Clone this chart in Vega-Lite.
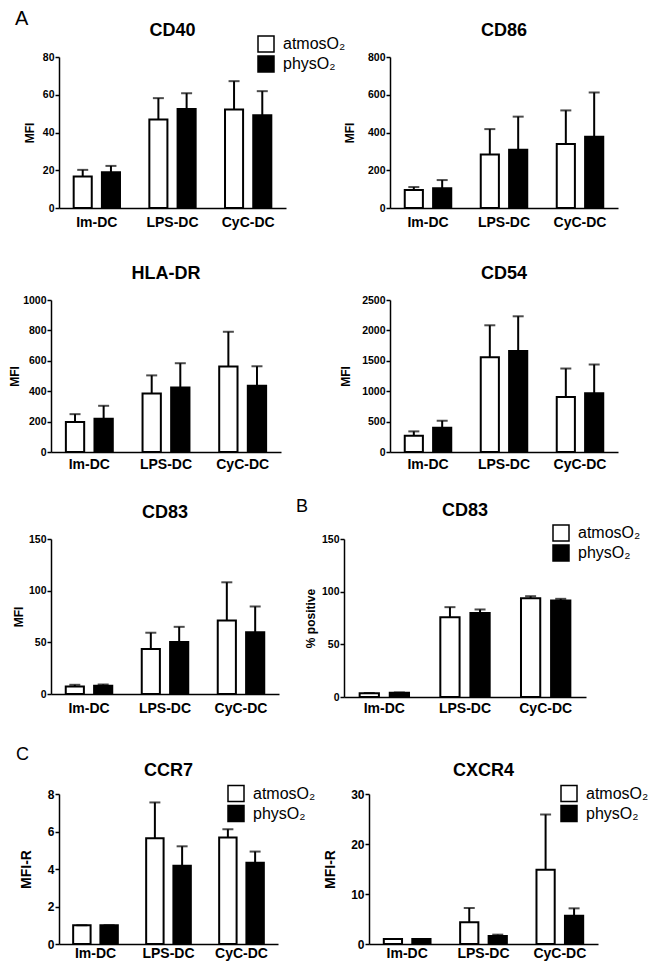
{
  "$schema": "https://vega.github.io/schema/vega-lite/v6.json",
  "background": "white",
  "padding": {"left": 8, "top": 9, "right": 5, "bottom": 5},
  "datasets": {
    "cd40": [
      {"group": "Im-DC", "cond": "atmosO₂", "mean": 16.7, "upper": 20.2},
      {"group": "Im-DC", "cond": "physO₂", "mean": 19.0, "upper": 22.3},
      {"group": "LPS-DC", "cond": "atmosO₂", "mean": 46.9, "upper": 58.2},
      {"group": "LPS-DC", "cond": "physO₂", "mean": 52.4, "upper": 60.8},
      {"group": "CyC-DC", "cond": "atmosO₂", "mean": 52.2, "upper": 67.2},
      {"group": "CyC-DC", "cond": "physO₂", "mean": 49.1, "upper": 61.9}
    ],
    "cd86": [
      {"group": "Im-DC", "cond": "atmosO₂", "mean": 95, "upper": 111},
      {"group": "Im-DC", "cond": "physO₂", "mean": 104, "upper": 148},
      {"group": "LPS-DC", "cond": "atmosO₂", "mean": 283, "upper": 418},
      {"group": "LPS-DC", "cond": "physO₂", "mean": 308, "upper": 484},
      {"group": "CyC-DC", "cond": "atmosO₂", "mean": 339, "upper": 517},
      {"group": "CyC-DC", "cond": "physO₂", "mean": 378, "upper": 612}
    ],
    "hladr": [
      {"group": "Im-DC", "cond": "atmosO₂", "mean": 198, "upper": 249},
      {"group": "Im-DC", "cond": "physO₂", "mean": 218, "upper": 304},
      {"group": "LPS-DC", "cond": "atmosO₂", "mean": 385, "upper": 504},
      {"group": "LPS-DC", "cond": "physO₂", "mean": 425, "upper": 584},
      {"group": "CyC-DC", "cond": "atmosO₂", "mean": 562, "upper": 791},
      {"group": "CyC-DC", "cond": "physO₂", "mean": 436, "upper": 564}
    ],
    "cd54": [
      {"group": "Im-DC", "cond": "atmosO₂", "mean": 268, "upper": 339},
      {"group": "Im-DC", "cond": "physO₂", "mean": 399, "upper": 514},
      {"group": "LPS-DC", "cond": "atmosO₂", "mean": 1559, "upper": 2084},
      {"group": "LPS-DC", "cond": "physO₂", "mean": 1663, "upper": 2232},
      {"group": "CyC-DC", "cond": "atmosO₂", "mean": 903, "upper": 1373},
      {"group": "CyC-DC", "cond": "physO₂", "mean": 968, "upper": 1439}
    ],
    "cd83mfi": [
      {"group": "Im-DC", "cond": "atmosO₂", "mean": 7.3, "upper": 8.9},
      {"group": "Im-DC", "cond": "physO₂", "mean": 7.9, "upper": 9.2},
      {"group": "LPS-DC", "cond": "atmosO₂", "mean": 43.5, "upper": 59.3},
      {"group": "LPS-DC", "cond": "physO₂", "mean": 50.4, "upper": 65.0},
      {"group": "CyC-DC", "cond": "atmosO₂", "mean": 71.2, "upper": 108.1},
      {"group": "CyC-DC", "cond": "physO₂", "mean": 59.7, "upper": 84.7}
    ],
    "cd83pct": [
      {"group": "Im-DC", "cond": "atmosO₂", "mean": 3.5, "upper": 3.8},
      {"group": "Im-DC", "cond": "physO₂", "mean": 4.1, "upper": 4.3},
      {"group": "LPS-DC", "cond": "atmosO₂", "mean": 75.6, "upper": 85.3},
      {"group": "LPS-DC", "cond": "physO₂", "mean": 79.7, "upper": 83.1},
      {"group": "CyC-DC", "cond": "atmosO₂", "mean": 93.8, "upper": 95.7},
      {"group": "CyC-DC", "cond": "physO₂", "mean": 91.6, "upper": 93.2}
    ],
    "ccr7": [
      {"group": "Im-DC", "cond": "atmosO₂", "mean": 1.0, "upper": 1.0},
      {"group": "Im-DC", "cond": "physO₂", "mean": 1.0, "upper": 1.0},
      {"group": "LPS-DC", "cond": "atmosO₂", "mean": 5.64, "upper": 7.55},
      {"group": "LPS-DC", "cond": "physO₂", "mean": 4.18, "upper": 5.21},
      {"group": "CyC-DC", "cond": "atmosO₂", "mean": 5.68, "upper": 6.12},
      {"group": "CyC-DC", "cond": "physO₂", "mean": 4.34, "upper": 4.93}
    ],
    "cxcr4": [
      {"group": "Im-DC", "cond": "atmosO₂", "mean": 1.0, "upper": 1.0},
      {"group": "Im-DC", "cond": "physO₂", "mean": 1.0, "upper": 1.0},
      {"group": "LPS-DC", "cond": "atmosO₂", "mean": 4.33, "upper": 7.2},
      {"group": "LPS-DC", "cond": "physO₂", "mean": 1.6, "upper": 1.87},
      {"group": "CyC-DC", "cond": "atmosO₂", "mean": 14.87, "upper": 25.9},
      {"group": "CyC-DC", "cond": "physO₂", "mean": 5.67, "upper": 7.13}
    ]
  },
  "columns": 1,
  "align": "each",
  "spacing": 0,
  "resolve": {"scale": {"fill": "independent", "x": "independent", "y": "independent", "xOffset": "independent"}, "legend": {"fill": "independent"}},
  "concat": [
    {
      "title": {"text": "A", "anchor": "start", "frame": "group", "fontSize": 20, "fontWeight": "normal", "dx": -34, "dy": 7, "offset": 0},
      "columns": 4, "align": "each", "bounds": "flush", "spacing": 0,
      "resolve": {"scale": {"fill": "independent", "x": "independent", "y": "independent", "xOffset": "independent"}, "legend": {"fill": "independent"}},
      "concat": [
        {"width": 10, "height": 208, "view": {"fill": "transparent", "stroke": null}, "data": {"values": []}, "mark": "text"},
        {
          "width": 227, "height": 151,
          "title": {"text": "CD40", "dy": 17},
          "data": {"name": "cd40"},
          "encoding": {
            "x": {"field": "group", "type": "nominal", "sort": ["Im-DC", "LPS-DC", "CyC-DC"], "scale": {"paddingInner": 0, "paddingOuter": 0}, "axis": {"title": null, "labelPadding": 7}},
            "xOffset": {"field": "cond", "type": "nominal", "sort": ["atmosO₂", "physO₂"], "scale": {"paddingInner": 0.36, "paddingOuter": 0.52}},
            "y": {"field": "mean", "type": "quantitative", "title": "MFI", "scale": {"domain": [0, 80], "nice": false}, "axis": {"values": [0, 20, 40, 60, 80], "format": "d", "titlePadding": 6}}
          },
          "layer": [
            {"mark": {"type": "rule", "color": "black", "strokeWidth": 2}, "encoding": {"y2": {"field": "upper"}}},
            {"mark": {"type": "bar", "stroke": "black", "strokeWidth": 2}, "encoding": {"fill": {"field": "cond", "type": "nominal", "scale": {"domain": ["atmosO₂", "physO₂"], "range": ["white", "black"]}, "legend": {"orient": "none", "legendX": 198, "legendY": -22}}}},
            {"mark": {"type": "tick", "color": "black", "thickness": 2, "size": 11}, "encoding": {"y": {"field": "upper", "type": "quantitative", "title": "MFI"}}}
          ]
        },
        {"width": 104, "height": 1, "data": {"values": []}, "mark": "text"},
        {
          "width": 228, "height": 151,
          "title": {"text": "CD86"},
          "data": {"name": "cd86"},
          "encoding": {
            "x": {"field": "group", "type": "nominal", "sort": ["Im-DC", "LPS-DC", "CyC-DC"], "scale": {"paddingInner": 0, "paddingOuter": 0}, "axis": {"title": null, "labelPadding": 7}},
            "xOffset": {"field": "cond", "type": "nominal", "sort": ["atmosO₂", "physO₂"], "scale": {"paddingInner": 0.36, "paddingOuter": 0.52}},
            "y": {"field": "mean", "type": "quantitative", "title": "MFI", "scale": {"domain": [0, 800], "nice": false}, "axis": {"values": [0, 200, 400, 600, 800], "format": "d", "titlePadding": 11}}
          },
          "layer": [
            {"mark": {"type": "rule", "color": "black", "strokeWidth": 2}, "encoding": {"y2": {"field": "upper"}}},
            {"mark": {"type": "bar", "stroke": "black", "strokeWidth": 2}, "encoding": {"fill": {"field": "cond", "type": "nominal", "scale": {"domain": ["atmosO₂", "physO₂"], "range": ["white", "black"]}, "legend": null}}},
            {"mark": {"type": "tick", "color": "black", "thickness": 2, "size": 11}, "encoding": {"y": {"field": "upper", "type": "quantitative", "title": "MFI"}}}
          ]
        }
      ]
    },
    {
      "columns": 4, "align": "each", "bounds": "flush", "spacing": 0,
      "resolve": {"scale": {"fill": "independent", "x": "independent", "y": "independent", "xOffset": "independent"}, "legend": {"fill": "independent"}},
      "concat": [
        {"width": 2, "height": 197, "view": {"fill": "transparent", "stroke": null}, "data": {"values": []}, "mark": "text"},
        {
          "width": 230, "height": 152,
          "title": {"text": "HLA-DR"},
          "data": {"name": "hladr"},
          "encoding": {
            "x": {"field": "group", "type": "nominal", "sort": ["Im-DC", "LPS-DC", "CyC-DC"], "scale": {"paddingInner": 0, "paddingOuter": 0}, "axis": {"title": null, "labelPadding": 5.5}},
            "xOffset": {"field": "cond", "type": "nominal", "sort": ["atmosO₂", "physO₂"], "scale": {"paddingInner": 0.36, "paddingOuter": 0.52}},
            "y": {"field": "mean", "type": "quantitative", "title": "MFI", "scale": {"domain": [0, 1000], "nice": false}, "axis": {"values": [0, 200, 400, 600, 800, 1000], "format": "d", "titlePadding": 1}}
          },
          "layer": [
            {"mark": {"type": "rule", "color": "black", "strokeWidth": 2}, "encoding": {"y2": {"field": "upper"}}},
            {"mark": {"type": "bar", "stroke": "black", "strokeWidth": 2}, "encoding": {"fill": {"field": "cond", "type": "nominal", "scale": {"domain": ["atmosO₂", "physO₂"], "range": ["white", "black"]}, "legend": null}}},
            {"mark": {"type": "tick", "color": "black", "thickness": 2, "size": 11}, "encoding": {"y": {"field": "upper", "type": "quantitative", "title": "MFI"}}}
          ]
        },
        {"width": 109, "height": 1, "data": {"values": []}, "mark": "text"},
        {
          "width": 228, "height": 152,
          "title": {"text": "CD54"},
          "data": {"name": "cd54"},
          "encoding": {
            "x": {"field": "group", "type": "nominal", "sort": ["Im-DC", "LPS-DC", "CyC-DC"], "scale": {"paddingInner": 0, "paddingOuter": 0}, "axis": {"title": null, "labelPadding": 5.5}},
            "xOffset": {"field": "cond", "type": "nominal", "sort": ["atmosO₂", "physO₂"], "scale": {"paddingInner": 0.36, "paddingOuter": 0.52}},
            "y": {"field": "mean", "type": "quantitative", "title": "MFI", "scale": {"domain": [0, 2500], "nice": false}, "axis": {"values": [0, 500, 1000, 1500, 2000, 2500], "format": "d", "titlePadding": 9.5}}
          },
          "layer": [
            {"mark": {"type": "rule", "color": "black", "strokeWidth": 2}, "encoding": {"y2": {"field": "upper"}}},
            {"mark": {"type": "bar", "stroke": "black", "strokeWidth": 2}, "encoding": {"fill": {"field": "cond", "type": "nominal", "scale": {"domain": ["atmosO₂", "physO₂"], "range": ["white", "black"]}, "legend": null}}},
            {"mark": {"type": "tick", "color": "black", "thickness": 2, "size": 11}, "encoding": {"y": {"field": "upper", "type": "quantitative", "title": "MFI"}}}
          ]
        }
      ]
    },
    {
      "title": {"text": "B", "anchor": "start", "frame": "group", "fontSize": 18, "fontWeight": "normal", "dx": 247, "dy": 14, "offset": 0},
      "columns": 4, "align": "each", "bounds": "flush", "spacing": 0,
      "resolve": {"scale": {"fill": "independent", "x": "independent", "y": "independent", "xOffset": "independent"}, "legend": {"fill": "independent"}},
      "concat": [
        {"width": 2, "height": 206, "view": {"fill": "transparent", "stroke": null}, "data": {"values": []}, "mark": "text"},
        {
          "width": 228, "height": 155,
          "title": {"text": "CD83"},
          "data": {"name": "cd83mfi"},
          "encoding": {
            "x": {"field": "group", "type": "nominal", "sort": ["Im-DC", "LPS-DC", "CyC-DC"], "scale": {"paddingInner": 0, "paddingOuter": 0}, "axis": {"title": null, "labelPadding": 7}},
            "xOffset": {"field": "cond", "type": "nominal", "sort": ["atmosO₂", "physO₂"], "scale": {"paddingInner": 0.36, "paddingOuter": 0.52}},
            "y": {"field": "mean", "type": "quantitative", "title": "MFI", "scale": {"domain": [0, 150], "nice": false}, "axis": {"values": [0, 50, 100, 150], "format": "d", "titlePadding": 3}}
          },
          "layer": [
            {"mark": {"type": "rule", "color": "black", "strokeWidth": 2}, "encoding": {"y2": {"field": "upper"}}},
            {"mark": {"type": "bar", "stroke": "black", "strokeWidth": 2}, "encoding": {"fill": {"field": "cond", "type": "nominal", "scale": {"domain": ["atmosO₂", "physO₂"], "range": ["white", "black"]}, "legend": null}}},
            {"mark": {"type": "tick", "color": "black", "thickness": 2, "size": 11}, "encoding": {"y": {"field": "upper", "type": "quantitative", "title": "MFI"}}}
          ]
        },
        {"width": 65, "height": 1, "data": {"values": []}, "mark": "text"},
        {
          "width": 242, "height": 158,
          "title": {"text": "CD83", "dy": 7.5},
          "data": {"name": "cd83pct"},
          "encoding": {
            "x": {"field": "group", "type": "nominal", "sort": ["Im-DC", "LPS-DC", "CyC-DC"], "scale": {"paddingInner": 0, "paddingOuter": 0}, "axis": {"title": null, "labelPadding": 4}},
            "xOffset": {"field": "cond", "type": "nominal", "sort": ["atmosO₂", "physO₂"], "scale": {"paddingInner": 0.36, "paddingOuter": 0.52}},
            "y": {"field": "mean", "type": "quantitative", "title": "% positive", "scale": {"domain": [0, 150], "nice": false}, "axis": {"values": [0, 50, 100, 150], "format": "d", "titlePadding": 3.5}}
          },
          "layer": [
            {"mark": {"type": "rule", "color": "black", "strokeWidth": 2}, "encoding": {"y2": {"field": "upper"}}},
            {"mark": {"type": "bar", "stroke": "black", "strokeWidth": 2}, "encoding": {"fill": {"field": "cond", "type": "nominal", "scale": {"domain": ["atmosO₂", "physO₂"], "range": ["white", "black"]}, "legend": {"orient": "none", "legendX": 208, "legendY": -15}}}},
            {"mark": {"type": "tick", "color": "black", "thickness": 2, "size": 11}, "encoding": {"y": {"field": "upper", "type": "quantitative", "title": "% positive"}}}
          ]
        }
      ]
    },
    {
      "title": {"text": "C", "anchor": "start", "frame": "group", "fontSize": 18, "fontWeight": "normal", "dx": -33, "dy": 2, "offset": 0},
      "columns": 4, "align": "each", "bounds": "flush", "spacing": 0,
      "resolve": {"scale": {"fill": "independent", "x": "independent", "y": "independent", "xOffset": "independent"}, "legend": {"fill": "independent"}},
      "concat": [
        {"width": 10, "height": 1, "data": {"values": []}, "mark": "text"},
        {
          "width": 219, "height": 150,
          "title": {"text": "CCR7", "dy": 7},
          "data": {"name": "ccr7"},
          "encoding": {
            "x": {"field": "group", "type": "nominal", "sort": ["Im-DC", "LPS-DC", "CyC-DC"], "scale": {"paddingInner": 0, "paddingOuter": 0}, "axis": {"title": null, "labelPadding": 2}},
            "xOffset": {"field": "cond", "type": "nominal", "sort": ["atmosO₂", "physO₂"], "scale": {"paddingInner": 0.36, "paddingOuter": 0.52}},
            "y": {"field": "mean", "type": "quantitative", "title": "MFI-R", "scale": {"domain": [0, 8], "nice": false}, "axis": {"values": [0, 2, 4, 6, 8], "format": "d", "titlePadding": 14, "labelFontSize": 12, "titleFontSize": 14}}
          },
          "layer": [
            {"mark": {"type": "rule", "color": "black", "strokeWidth": 2}, "encoding": {"y2": {"field": "upper"}}},
            {"mark": {"type": "bar", "stroke": "black", "strokeWidth": 2}, "encoding": {"fill": {"field": "cond", "type": "nominal", "scale": {"domain": ["atmosO₂", "physO₂"], "range": ["white", "black"]}, "legend": {"orient": "none", "legendX": 168, "legendY": -9.5}}}},
            {"mark": {"type": "tick", "color": "black", "thickness": 2, "size": 11}, "encoding": {"y": {"field": "upper", "type": "quantitative", "title": "MFI-R"}}}
          ]
        },
        {"width": 91, "height": 1, "data": {"values": []}, "mark": "text"},
        {
          "width": 229, "height": 150,
          "title": {"text": "CXCR4", "dy": 7},
          "data": {"name": "cxcr4"},
          "encoding": {
            "x": {"field": "group", "type": "nominal", "sort": ["Im-DC", "LPS-DC", "CyC-DC"], "scale": {"paddingInner": 0, "paddingOuter": 0}, "axis": {"title": null, "labelPadding": 2}},
            "xOffset": {"field": "cond", "type": "nominal", "sort": ["atmosO₂", "physO₂"], "scale": {"paddingInner": 0.36, "paddingOuter": 0.52}},
            "y": {"field": "mean", "type": "quantitative", "title": "MFI-R", "scale": {"domain": [0, 30], "nice": false}, "axis": {"values": [0, 10, 20, 30], "format": "d", "titlePadding": 12.7, "labelFontSize": 12, "titleFontSize": 14}}
          },
          "layer": [
            {"mark": {"type": "rule", "color": "black", "strokeWidth": 2}, "encoding": {"y2": {"field": "upper"}}},
            {"mark": {"type": "bar", "stroke": "black", "strokeWidth": 2}, "encoding": {"fill": {"field": "cond", "type": "nominal", "scale": {"domain": ["atmosO₂", "physO₂"], "range": ["white", "black"]}, "legend": {"orient": "none", "legendX": 191, "legendY": -9.5}}}},
            {"mark": {"type": "tick", "color": "black", "thickness": 2, "size": 11}, "encoding": {"y": {"field": "upper", "type": "quantitative", "title": "MFI-R"}}}
          ]
        }
      ]
    }
  ],
  "config": {
    "font": "Liberation Sans",
    "view": {"stroke": null},
    "title": {"fontSize": 18, "fontWeight": "bold", "color": "black", "offset": 12},
    "axis": {"domainColor": "black", "domainWidth": 1.5, "tickColor": "black", "tickWidth": 1.5, "labelColor": "black", "titleColor": "black", "labelFontWeight": "bold", "titleFontWeight": "bold", "grid": false},
    "axisY": {"tickSize": 4, "labelFontSize": 10.5, "titleFontSize": 12, "labelPadding": 1},
    "axisX": {"ticks": false, "labelFontSize": 14, "labelAngle": 0},
    "legend": {"title": null, "padding": 0, "symbolType": "square", "symbolSize": 256, "symbolStrokeColor": "black", "symbolStrokeWidth": 1.5, "labelFontSize": 16, "labelColor": "black", "labelOffset": 8, "rowPadding": -2}
  }
}
